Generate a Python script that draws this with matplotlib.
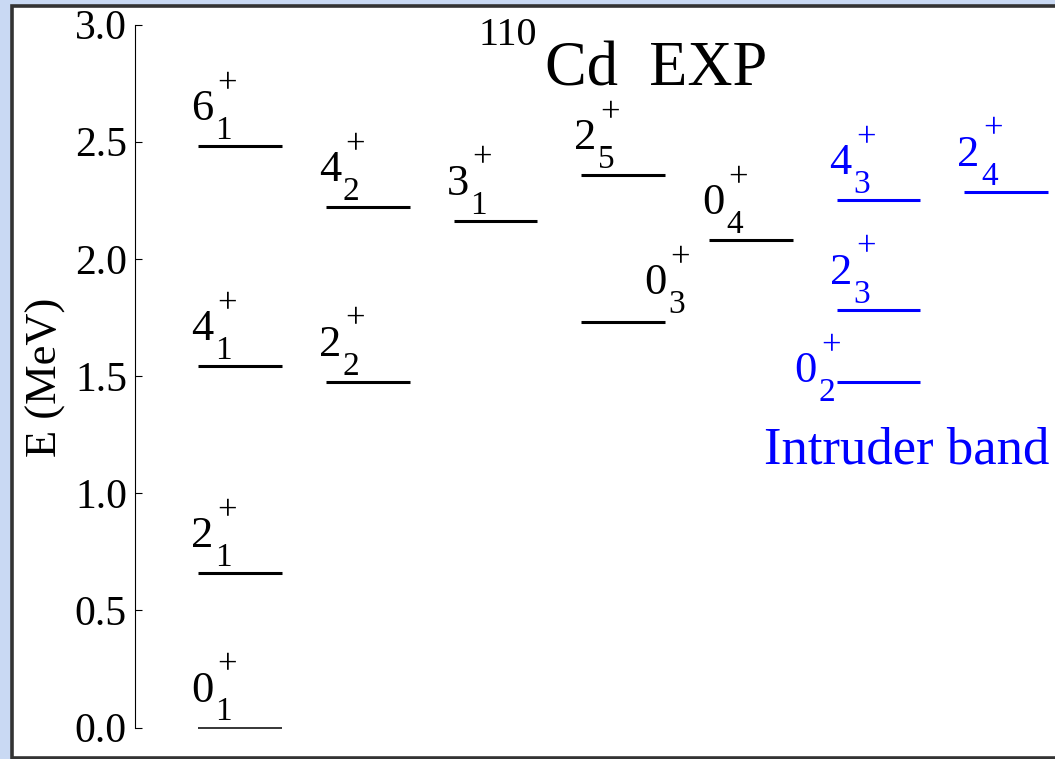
import numpy as np
import matplotlib.pyplot as plt
from matplotlib.patches import Rectangle

plt.rcParams['font.family'] = ['Liberation Serif', 'DejaVu Serif']

# ==============================================================================
# 1. LEVEL SCHEME DATA (110Cd, experiment)
# ==============================================================================
# ordinary levels: spin, running index, energy in MeV, column in the scheme
spins = [0, 2, 4, 6, 2, 4, 3, 0, 2, 0]
indices = [1, 1, 1, 1, 2, 2, 1, 3, 5, 4]
energies = [0.000, 0.658, 1.542, 2.480, 1.476, 2.220, 2.163, 1.731, 2.356, 2.079]
columns = [0, 0, 0, 0, 1, 1, 2, 3, 3, 4]

# intruder band levels
intruder_spins = [0, 2, 4, 2]
intruder_indices = [2, 3, 3, 4]
intruder_energies = [1.473, 1.783, 2.251, 2.287]
intruder_columns = [5, 5, 5, 6]

y_ticks = [0.0, 0.5, 1.0, 1.5, 2.0, 2.5, 3.0]

# ==============================================================================
# 2. FIGURE LAYOUT
# ==============================================================================
W, H, DPI = 1055, 759, 100
HALF = 0.328  # half width of a level line, in column units

# label offsets (pixels) for the few labels that do not sit above the line start
label_shift = {(0, 3): (63, 28), (0, 2): (-42, 0)}


def fig_xy(x, y):
    # pixel position measured from the top-left corner -> figure fraction
    return x / W, 1 - y / H


fig = plt.figure(figsize=(W / DPI, H / DPI), dpi=DPI, facecolor='#c9d9f3')
fig.add_artist(Rectangle(fig_xy(11.5, 757.5), (W + 20) / W, 752 / H,
                         transform=fig.transFigure, facecolor='white',
                         edgecolor='#333333', linewidth=2.6, zorder=0))

ax = fig.add_axes([135 / W, 31.5 / H, 920 / W, 703 / H])
ax.set_facecolor('none')
ax.set_xlim(-0.822, 6.382)
ax.set_ylim(0, 3.0)

for side in ['top', 'right', 'bottom']:
    ax.spines[side].set_visible(False)
ax.spines['left'].set_linewidth(0.8)
ax.set_xticks([])
ax.set_yticks(y_ticks)
ax.set_yticklabels([f'{t:.1f}' for t in y_ticks])
ax.tick_params(axis='y', direction='in', length=5, width=0.8, pad=5.8, labelsize=30)


def draw_level(col, e, spin, idx, color):
    lw = 1.1 if e == 0 else 2.2
    x0 = col - HALF
    ax.hlines(e, x0, col + HALF, colors=color, linewidth=lw, clip_on=False)
    dx, dy = label_shift.get((spin, idx), (-7, 26))
    ax.annotate(str(spin), (x0, e), xytext=(dx, dy), textcoords='offset pixels',
                fontsize=32, color=color, ha='left', va='baseline')
    ax.annotate(str(idx), (x0, e), xytext=(dx + 24, dy - 19), textcoords='offset pixels',
                fontsize=24, color=color, ha='left', va='baseline')
    ax.annotate('+', (x0, e), xytext=(dx + 36, dy + 27), textcoords='offset pixels',
                fontsize=25, color=color, ha='center', va='baseline')


# ==============================================================================
# 3. DRAWING
# ==============================================================================
for c, e, s, i in zip(columns, energies, spins, indices):
    draw_level(c, e, s, i, 'black')

for c, e, s, i in zip(intruder_columns, intruder_energies, intruder_spins, intruder_indices):
    draw_level(c, e, s, i, 'blue')

fig.text(*fig_xy(46, 377), 'E (MeV)', rotation=90, ha='center', va='center', fontsize=32)
fig.text(*fig_xy(479, 45), '110', fontsize=29, ha='left', va='baseline')
fig.text(*fig_xy(545, 86), 'Cd  EXP', fontsize=45, ha='left', va='baseline')
fig.text(*fig_xy(764, 463), 'Intruder band', fontsize=38, color='blue', ha='left', va='baseline')

fig.savefig('out.png', dpi=DPI, facecolor=fig.get_facecolor())
